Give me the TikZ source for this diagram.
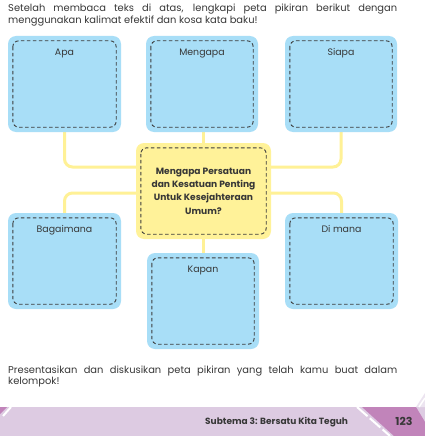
\documentclass[tikz,border=0pt]{standalone}
\usepackage{fontspec}
\setmainfont{Poppins}
\usetikzlibrary{backgrounds,calc}
\definecolor{boxblue}{RGB}{168,222,247}
\definecolor{boxyellow}{RGB}{255,242,153}
\definecolor{connyellow}{RGB}{255,241,150}
\definecolor{dashgray}{RGB}{60,60,60}
\definecolor{txtgray}{RGB}{55,55,55}
\definecolor{bandlilac}{RGB}{221,203,226}
\definecolor{darkpurple}{RGB}{193,132,186}
\definecolor{palelilac}{RGB}{236,228,240}
\tikzset{
  bluebox/.style={fill=boxblue, rounded corners=8pt, minimum height=96pt, inner sep=0pt},
  yellowbox/.style={fill=boxyellow, rounded corners=8pt, minimum width=135pt, minimum height=96pt, inner sep=0pt, align=center, text=txtgray, font=\bfseries\fontsize{9.1}{13.3}\selectfont},
  dashline/.style={draw=dashgray, line width=0.9pt, dash pattern=on 3.6pt off 2.4pt, rounded corners=6pt},
  conn/.style={draw=connyellow, line width=3pt, rounded corners=8pt},
  lbl/.style={anchor=base, inner sep=0pt, text=txtgray, font=\fontsize{9.4}{11}\selectfont},
  body/.style={anchor=base west, inner sep=0pt, text=txtgray, font=\fontsize{9.9}{11}\selectfont}
}
\begin{document}
\begin{tikzpicture}[x=1pt,y=-1pt]
\useasboundingbox (0,0) rectangle (425,436);

% top text
\node[body] (t1) at (8,12) {\makebox[389pt][s]{Setelah membaca teks di atas, lengkapi peta pikiran berikut dengan}};
\node[body] (t2) at (8,23.5) {menggunakan kalimat efektif dan kosa kata baku!};

% boxes
\node[bluebox, minimum width=113pt] (apa) at (64.5,84) {};
\node[bluebox, minimum width=112pt] (mengapa) at (202,84) {};
\node[bluebox, minimum width=112pt] (siapa) at (341,84) {};
\node[yellowbox] (center) at (203.5,191) {Mengapa Persatuan\\dan Kesatuan Penting\\Untuk Kesejahteraan\\Umum?};
\node[bluebox, minimum width=113pt] (bagaimana) at (64.5,261) {};
\node[bluebox, minimum width=112pt] (kapan) at (203,301) {};
\node[bluebox, minimum width=113pt] (dimana) at (341.5,261) {};

\foreach \n in {apa,mengapa,siapa,center,bagaimana,kapan,dimana}
  \draw[dashline] ([shift={(5pt,-5pt)}]\n.north west) rectangle ([shift={(-5pt,5pt)}]\n.south east);

\node[lbl] (apaL) at ($(apa.north)+(0,19.5)$) {Apa};
\node[lbl] (mengapaL) at ($(mengapa.north)+(0,19.5)$) {Mengapa};
\node[lbl] (siapaL) at ($(siapa.north)+(0,19.5)$) {Siapa};
\node[lbl] (bagaimanaL) at ($(bagaimana.north)+(0,19.5)$) {Bagaimana};
\node[lbl] (kapanL) at ($(kapan.north)+(0,19.5)$) {Kapan};
\node[lbl] (dimanaL) at ($(dimana.north)+(0,19.5)$) {Di mana};

% connectors
\begin{scope}[on background layer]
\fill[white] (0,0) rectangle (425,436);
\draw[conn] (apa.south) |- ([yshift=24pt]center.west);
\draw[conn] (siapa.south) |- ([yshift=24pt]center.east);
\draw[conn] (center.north) -- (center.north |- mengapa.south);
\draw[conn] (center.south) -- (center.south |- kapan.north);
\draw[conn] ([yshift=-2pt]center.west) -| (bagaimana.north);
\draw[conn] ([yshift=-2pt]center.east) -| (dimana.north);
\end{scope}

% bottom text
\node[body] (b1) at (8,373) {\makebox[389pt][s]{Presentasikan dan diskusikan peta pikiran yang telah kamu buat dalam}};
\node[body] (b2) at (8,384.5) {kelompok!};

% footer
\fill[bandlilac] (0,407) rectangle (425,436);
\fill[darkpurple] (0,407) -- (7,407) -- (0,414) -- cycle;
\draw[white, line width=2pt] (11,407) -- (3,416);
\fill[darkpurple] (362,407) -- (416,407) -- (425,422) -- (425,436) -- (394,436) -- cycle;
\draw[white, line width=2pt, dash pattern=on 14pt off 3pt] (357,407) -- (390,436);
\fill[palelilac] (416,407) -- (425,393) -- (425,407) -- cycle;
\draw[white, line width=1.5pt] (419,407) -- (425,398);
\node[anchor=base west, inner sep=0pt, text=txtgray, font=\bfseries\fontsize{9}{10}\selectfont] (sub) at (205,424.5) {Subtema 3: Bersatu Kita Teguh};
\node[anchor=base, inner sep=0pt, text=txtgray, font=\bfseries\fontsize{11}{12}\selectfont] (page) at (404,425) {123};
\end{tikzpicture}
\end{document}
